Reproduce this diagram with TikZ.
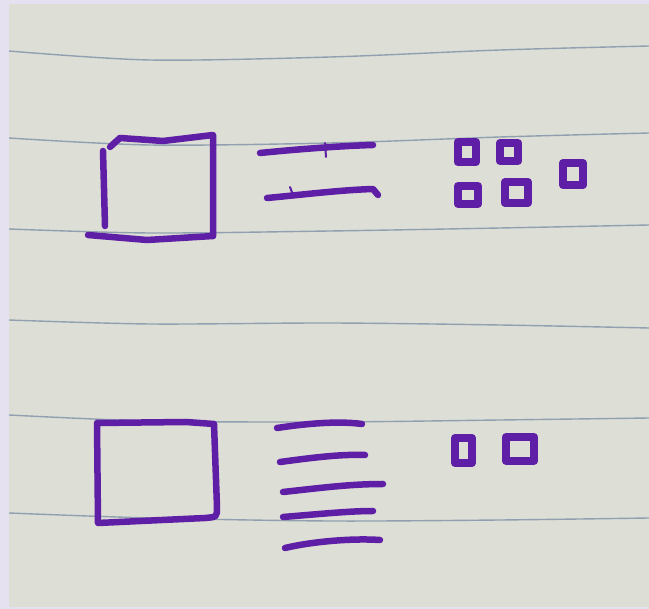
\documentclass[tikz,border=0pt]{standalone}
\usetikzlibrary{calc}
\definecolor{frame}{RGB}{230,225,240}
\definecolor{paper}{RGB}{221,222,213}
\definecolor{ruling}{RGB}{145,160,176}
\definecolor{marker}{RGB}{94,30,166}
\tikzset{
    pen/.style={
        draw=marker,
        line width=6.5pt,
        line cap=round,
        line join=round
    },
    blob/.style={
        pen,
        line width=8pt
    },
    nick/.style={
        draw=marker,
        line width=2pt,
        line cap=round
    },
    rule/.style={
        draw=ruling,
        line width=1.4pt
    }
}

\begin{document}
\begin{tikzpicture}[x=1pt, y=-1pt]

% sheet
\fill[frame] (0,0) rectangle (649,609);
\fill[paper] (9,4) rectangle (649,607);
\useasboundingbox (0,0) rectangle (649,609);

% ruled lines
\draw[rule] plot[smooth] coordinates {(9,51) (150,60) (330,57) (500,50) (649,46)};
\draw[rule] plot[smooth] coordinates {(9,138) (150,145) (330,143) (500,137) (649,133)};
\draw[rule] plot[smooth] coordinates {(9,229) (150,233) (330,231) (500,228) (649,225)};
\draw[rule] plot[smooth] coordinates {(9,320) (150,324) (330,323) (500,325) (649,328)};
\draw[rule] plot[smooth] coordinates {(9,415) (150,421) (330,422) (500,420) (649,418)};
\draw[rule] plot[smooth] coordinates {(9,513) (150,518) (330,521) (500,520) (649,518)};

% upper row
\draw[pen] (120,138) -- (163,141) -- (213,135) -- (213,236);
\draw[pen] (120,138) -- (110,147);
\draw[pen] (103,151) -- (105,226);
\draw[pen] (88,235) -- (147,240) -- (213,236);

\draw[pen] (260,153) .. controls (300,149) and (340,146) .. (373,145);
\draw[nick] (325,143) -- (326,157);
\draw[pen] (267,198) .. controls (300,195) and (340,190) .. (373,189) -- (378,195);
\draw[nick] (290,187) -- (293,195);

\foreach \cx/\cy/\hw/\hh in {466.75/152/9.25/10, 509/152/9.25/9, 468/195/10/9, 516.5/192.5/11.5/10.5, 573/174/10/11}
    \draw[blob] (\cx-\hw,\cy-\hh) rectangle (\cx+\hw,\cy+\hh);

% lower row
\draw[pen] (98,523) -- (97,423) -- (186,422) -- (214,424) -- (217,507)
    .. controls (217,517) .. (205,518) -- cycle;

\draw[pen] (277,428) .. controls (310,423) and (340,421) .. (362,424);
\draw[pen] (280,462) .. controls (310,458) and (340,454) .. (365,455);
\draw[pen] (283,492) .. controls (320,488) and (350,484) .. (383,484);
\draw[pen] (283,517) .. controls (320,514) and (350,511) .. (373,511);
\draw[pen] (285,548) .. controls (310,542) and (350,538) .. (380,540);

\foreach \cx/\cy/\hw/\hh in {463.5/450.5/8.5/12.5, 520/449/14/12}
    \draw[blob] (\cx-\hw,\cy-\hh) rectangle (\cx+\hw,\cy+\hh);

\end{tikzpicture}
\end{document}
